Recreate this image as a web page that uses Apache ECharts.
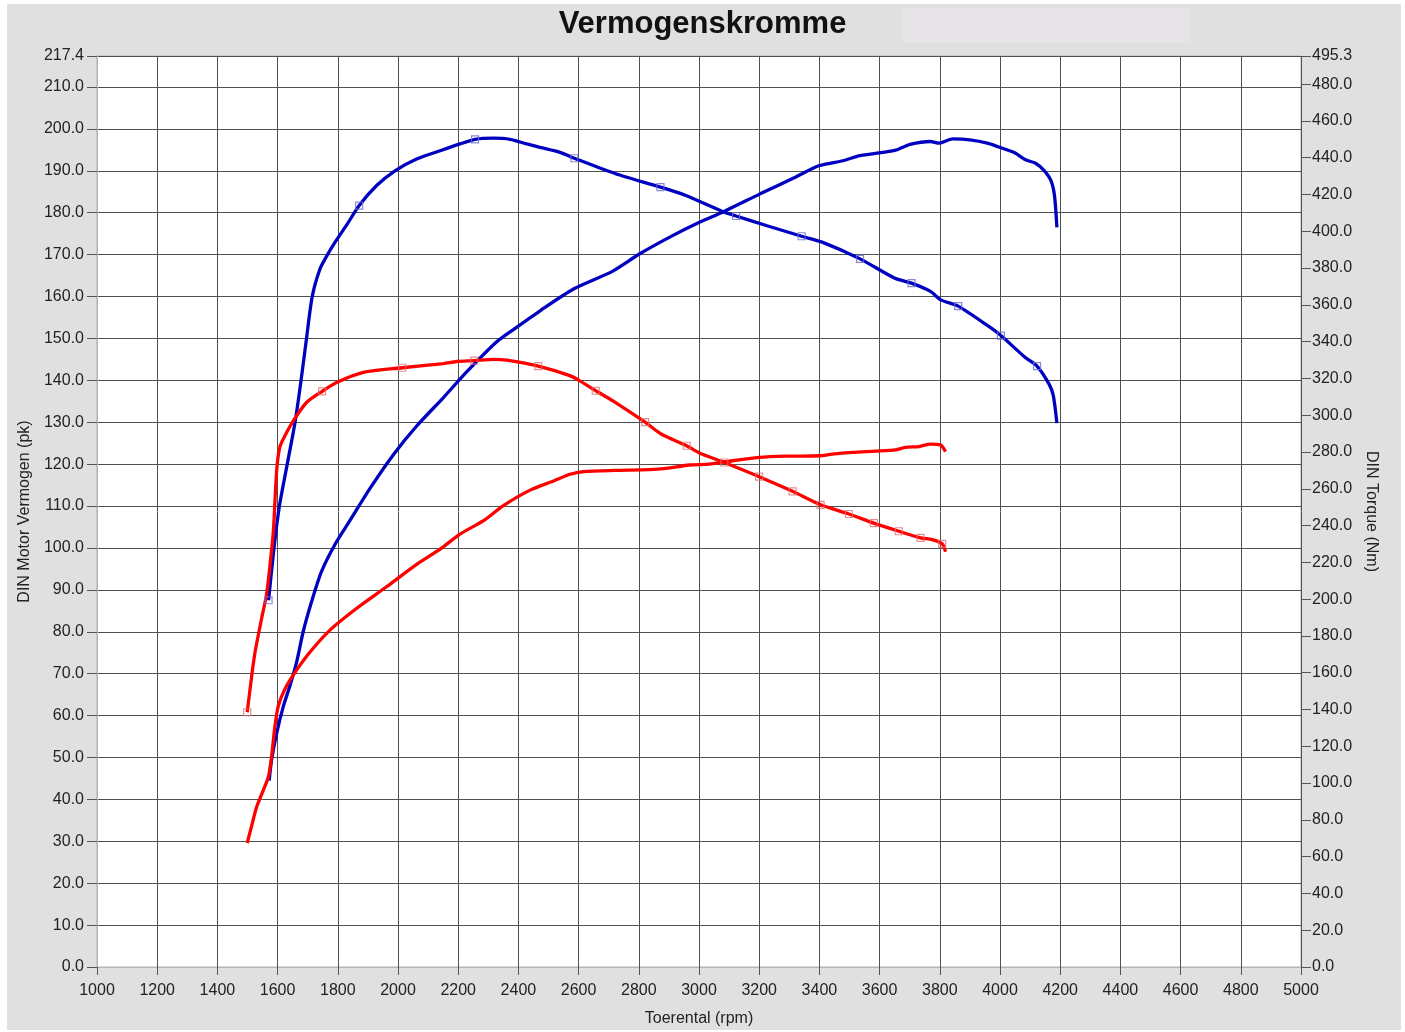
<!DOCTYPE html>
<html>
<head>
<meta charset="utf-8">
<script src="https://cdn.jsdelivr.net/npm/echarts@6/dist/echarts.min.js"></script>
<style>html,body{margin:0;padding:0;background:#fff;}#c{width:1405px;height:1032px;}</style>
</head>
<body>
<div id="c"></div>
<script>
// Blue torque (Nm)
const btRpm = [1570,1588,1606,1632,1658,1678,1696,1715,1741,1763,1791,1829,1871,1929,1990,2062,2140,2206,2256,2317,2372,2428,2472,2538,2586,2723,2872,2952,3078,3123,3226,3341,3409,3535,3649,3706,3769,3803,3861,3958,4003,4083,4123,4163,4177,4189];
const btNm = [199.4,227.8,250.6,273.4,296.2,319.0,341.7,364.5,379.6,386.5,394.1,403.3,414.0,424.9,432.9,439.3,443.8,447.5,450.0,450.6,450.0,447.5,445.6,442.9,439.7,431.3,424.0,419.7,410.8,408.3,403.0,397.3,394.1,385.0,374.6,371.8,367.3,362.7,359.3,348.8,343.3,331.5,326.7,316.9,310.8,295.7];
const btMarkIdx = [0,12,18,24,26,29,31,33,35,38,40,42];
// Red torque (Nm)
const rtRpm = [1499,1514,1525,1547,1563,1575,1586,1597,1608,1624,1652,1696,1748,1796,1885,2014,2151,2195,2253,2317,2361,2466,2571,2604,2657,2714,2821,2874,2959,3001,3084,3200,3311,3404,3498,3581,3664,3736,3775,3808,3819];
const rtNm = [138.5,158.3,171.1,189.6,202.3,218.9,237.2,270.2,283.0,288.7,296.9,306.9,313.0,317.8,323.3,325.8,328.1,329.2,329.7,330.4,329.9,326.7,321.5,318.7,313.3,307.8,296.2,289.8,283.4,279.5,274.3,266.6,258.6,251.3,246.3,241.3,236.9,233.3,232.4,230.1,225.8];
const rtMarkIdx = [0,12,15,18,21,24,26,28,30,31,32,33,34,35,36,37,39];
// Blue power (pk)
const bpRpm = [1572,1580,1597,1619,1641,1663,1685,1713,1746,1791,1840,1907,1984,2062,2151,2228,2328,2389,2472,2586,2712,2803,2906,2998,3083,3203,3318,3398,3478,3535,3638,3661,3701,3769,3798,3843,3900,3958,4015,4049,4083,4118,4146,4169,4181,4189];
const bpPk = [44.5,49.4,55.8,62.2,67.1,72.7,80.0,87.2,94.4,100.9,106.5,114.2,122.2,129.1,135.9,142.0,149.2,152.4,156.6,161.9,166.0,170.2,174.3,177.6,180.3,184.5,188.4,191.2,192.4,193.6,194.7,195.1,196.3,197.0,196.6,197.6,197.4,196.6,195.2,194.3,192.7,191.8,190.1,187.7,184.1,176.5];
// Red power (pk)
const rpRpm = [1499,1514,1530,1552,1569,1580,1591,1602,1624,1658,1707,1774,1863,1963,2062,2140,2206,2284,2350,2439,2517,2572,2617,2716,2835,2891,2968,3034,3090,3200,3288,3399,3443,3509,3587,3653,3686,3731,3769,3802,3819];
const rpPk = [29.6,33.7,38.1,42.1,45.3,50.2,57.4,62.2,66.3,70.3,75.1,80.4,85.6,90.8,96.1,99.7,103.3,106.5,110.1,113.8,116.0,117.6,118.2,118.5,118.7,119.0,119.8,120.0,120.6,121.6,121.9,122.0,122.4,122.8,123.1,123.4,124.0,124.2,124.8,124.6,123.0];

const pairs = (xs, ys) => xs.map((x, i) => [x, ys[i]]);
const pick = (xs, ys, idx) => idx.map(i => [xs[i], ys[i]]);

const BLUE = '#0000c0';
const RED = '#ff0000';
const FONT = 'Liberation Sans, Arial, sans-serif';

const chart = echarts.init(document.getElementById('c'), null, {renderer: 'canvas'});
chart.setOption({
  animation: false,
  backgroundColor: '#ffffff',
  graphic: [
    {type: 'rect', z: -100, shape: {x: 7, y: 4, width: 1394, height: 1026}, style: {fill: '#e0e0e0'}},
    {type: 'rect', z: -99, shape: {x: 903, y: 8, width: 287, height: 35}, style: {fill: '#e7e4e7'}}
  ],
  title: {
    text: 'Vermogenskromme', left: 'center', top: 4,
    textStyle: {fontFamily: FONT, fontSize: 31, fontWeight: 'bold', color: '#111'}
  },
  grid: {
    left: 97, right: 104, top: 56, bottom: 64, containLabel: false,
    show: true, backgroundColor: '#ffffff', borderColor: '#b4b4b4', borderWidth: 1
  },
  xAxis: {
    type: 'value', min: 1000, max: 5000, interval: 200,
    name: 'Toerental (rpm)', nameLocation: 'middle', nameGap: 44,
    nameTextStyle: {fontFamily: FONT, fontSize: 16, color: '#222'},
    axisLine: {show: true, lineStyle: {color: '#b4b4b4'}},
    axisTick: {show: true, length: 8, lineStyle: {color: '#555'}},
    axisLabel: {fontFamily: FONT, fontSize: 16, color: '#222', margin: 16, formatter: v => String(v)},
    splitLine: {show: true, lineStyle: {color: '#505050', width: 1}}
  },
  yAxis: [
    {
      type: 'value', min: 0, max: 217.4, interval: 10, position: 'left',
      name: 'DIN Motor Vermogen (pk)', nameLocation: 'middle', nameGap: 59,
      nameTextStyle: {fontFamily: FONT, fontSize: 16, color: '#222'},
      axisLine: {show: true, lineStyle: {color: '#b4b4b4'}},
      axisTick: {show: true, length: 10, lineStyle: {color: '#555'}},
      axisLabel: {fontFamily: FONT, fontSize: 16, color: '#222', margin: 13, formatter: v => v.toFixed(1)},
      splitLine: {show: true, lineStyle: {color: '#505050', width: 1}}
    },
    {
      type: 'value', min: 0, max: 495.3, interval: 20, position: 'right',
      name: 'DIN Torque (Nm)', nameLocation: 'middle', nameGap: 59, nameRotate: -90,
      nameTextStyle: {fontFamily: FONT, fontSize: 16, color: '#222'},
      axisLine: {show: false},
      axisTick: {show: true, length: 10, lineStyle: {color: '#555'}},
      axisLabel: {fontFamily: FONT, fontSize: 16, color: '#222', margin: 11, formatter: v => v.toFixed(1)},
      splitLine: {show: false}
    }
  ],
  series: [
    {type: 'line', name: 'Torque blauw', yAxisIndex: 1, data: pairs(btRpm, btNm), symbol: 'none',
     smooth: 0.25, lineStyle: {color: BLUE, width: 3.3}, z: 3},
    {type: 'line', name: 'Vermogen blauw', yAxisIndex: 0, data: pairs(bpRpm, bpPk), symbol: 'none',
     smooth: 0.25, lineStyle: {color: BLUE, width: 3.3}, z: 3},
    {type: 'line', name: 'Torque rood', yAxisIndex: 1, data: pairs(rtRpm, rtNm), symbol: 'none',
     smooth: 0.25, lineStyle: {color: RED, width: 3.3}, z: 4},
    {type: 'line', name: 'Vermogen rood', yAxisIndex: 0, data: pairs(rpRpm, rpPk), symbol: 'none',
     smooth: 0.25, lineStyle: {color: RED, width: 3.3}, z: 4},
    {type: 'scatter', yAxisIndex: 1, data: pick(btRpm, btNm, btMarkIdx), symbol: 'rect', symbolSize: 7,
     itemStyle: {color: 'rgba(0,0,0,0)', borderColor: '#6a6ad0', borderWidth: 1.2}, z: 5},
    {type: 'scatter', yAxisIndex: 1, data: pick(rtRpm, rtNm, rtMarkIdx), symbol: 'rect', symbolSize: 7,
     itemStyle: {color: 'rgba(0,0,0,0)', borderColor: '#e07070', borderWidth: 1.2}, z: 5}
  ]
});
</script>
</body>
</html>
